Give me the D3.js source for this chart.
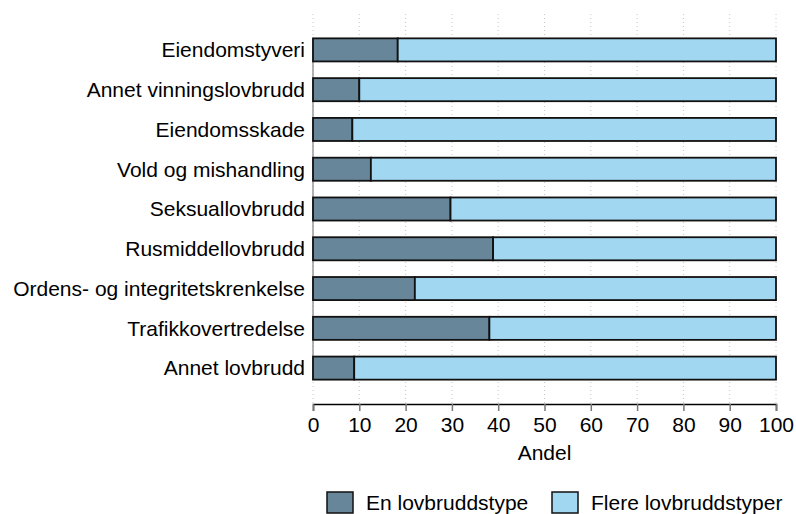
<!DOCTYPE html>
<html>
<head>
<meta charset="utf-8">
<script src="https://cdn.jsdelivr.net/npm/d3@7"></script>
<style>
  body { margin: 0; background: #fff; }
  text { font-family: "Liberation Sans", Arial, sans-serif; fill: #000; }
</style>
</head>
<body>
<script>
// categories and shares (percent) for the two groups
var categories = ["Eiendomstyveri", "Annet vinningslovbrudd", "Eiendomsskade",
  "Vold og mishandling", "Seksuallovbrudd", "Rusmiddellovbrudd",
  "Ordens- og integritetskrenkelse", "Trafikkovertredelse", "Annet lovbrudd"];
var enType = [18.3, 10.0, 8.5, 12.5, 29.7, 38.9, 22.0, 38.1, 8.9];
var flereTyper = enType.map(function(v) { return 100 - v; });
var seriesNames = ["En lovbruddstype", "Flere lovbruddstyper"];
var xTicks = [0, 10, 20, 30, 40, 50, 60, 70, 80, 90, 100];

var colors = ["#67869a", "#a1d7f1"];

var width = 796, height = 514;
var x0 = 313, x1 = 776, gridTop = 14, axisY = 404;

var svg = d3.select("body").append("svg")
    .attr("width", width)
    .attr("height", height);

var x = d3.scaleLinear().domain([0, 100]).range([x0, x1]);
var y = d3.scaleBand()
    .domain(categories)
    .range([30, 388])
    .paddingInner(0.42)
    .paddingOuter(0.21);

// dotted grid
svg.append("g").selectAll("line")
    .data(xTicks)
  .enter().append("line")
    .attr("x1", function(d) { return x(d); })
    .attr("x2", function(d) { return x(d); })
    .attr("y1", gridTop)
    .attr("y2", axisY)
    .attr("stroke", "#c8c8c8")
    .attr("stroke-width", 1)
    .attr("stroke-dasharray", "1,3");

// y axis line
svg.append("line")
    .attr("x1", x0).attr("x2", x0)
    .attr("y1", y(categories[0]))
    .attr("y2", y(categories[categories.length - 1]) + y.bandwidth())
    .attr("stroke", "#999")
    .attr("stroke-width", 1.5);

// stacked bars
var rows = categories.map(function(c, i) { return {cat: c, a: enType[i], b: flereTyper[i]}; });

var g = svg.append("g");
g.selectAll(".barA")
    .data(rows)
  .enter().append("rect")
    .attr("x", x(0))
    .attr("y", function(d) { return y(d.cat); })
    .attr("width", function(d) { return x(d.a) - x(0); })
    .attr("height", y.bandwidth())
    .attr("fill", colors[0])
    .attr("stroke", "#111")
    .attr("stroke-width", 1.8);
g.selectAll(".barB")
    .data(rows)
  .enter().append("rect")
    .attr("x", function(d) { return x(d.a); })
    .attr("y", function(d) { return y(d.cat); })
    .attr("width", function(d) { return x(d.a + d.b) - x(d.a); })
    .attr("height", y.bandwidth())
    .attr("fill", colors[1])
    .attr("stroke", "#111")
    .attr("stroke-width", 1.8);

// category labels
svg.append("g").selectAll("text")
    .data(categories)
  .enter().append("text")
    .attr("x", 305)
    .attr("y", function(d) { return y(d) + y.bandwidth() / 2; })
    .attr("dy", "0.35em")
    .attr("text-anchor", "end")
    .style("font-size", "21px")
    .text(function(d) { return d; });

// x axis
var xAxis = svg.append("g")
    .attr("transform", "translate(0," + axisY + ")")
    .call(d3.axisBottom(x).tickValues(xTicks).tickSize(7).tickPadding(6));
xAxis.select(".domain").attr("stroke", "#000").attr("stroke-width", 1.5);
xAxis.selectAll(".tick line").attr("stroke", "#777").attr("stroke-width", 1.5);
xAxis.selectAll(".tick text")
    .style("font-size", "21px")
    .style("font-family", "'Liberation Sans', Arial, sans-serif");

svg.append("text")
    .attr("x", (x0 + x1) / 2)
    .attr("y", 460)
    .attr("text-anchor", "middle")
    .style("font-size", "21px")
    .text("Andel");

// legend
var legendX = [327, 552];
var legend = svg.append("g").selectAll("g")
    .data(seriesNames)
  .enter().append("g")
    .attr("transform", function(d, i) { return "translate(" + legendX[i] + ",492)"; });
legend.append("rect")
    .attr("width", 26)
    .attr("height", 21)
    .attr("fill", function(d, i) { return colors[i]; })
    .attr("stroke", "#111")
    .attr("stroke-width", 1.5);
legend.append("text")
    .attr("x", 39)
    .attr("y", 11)
    .attr("dy", "0.35em")
    .style("font-size", "21px")
    .text(function(d) { return d; });
</script>
</body>
</html>
